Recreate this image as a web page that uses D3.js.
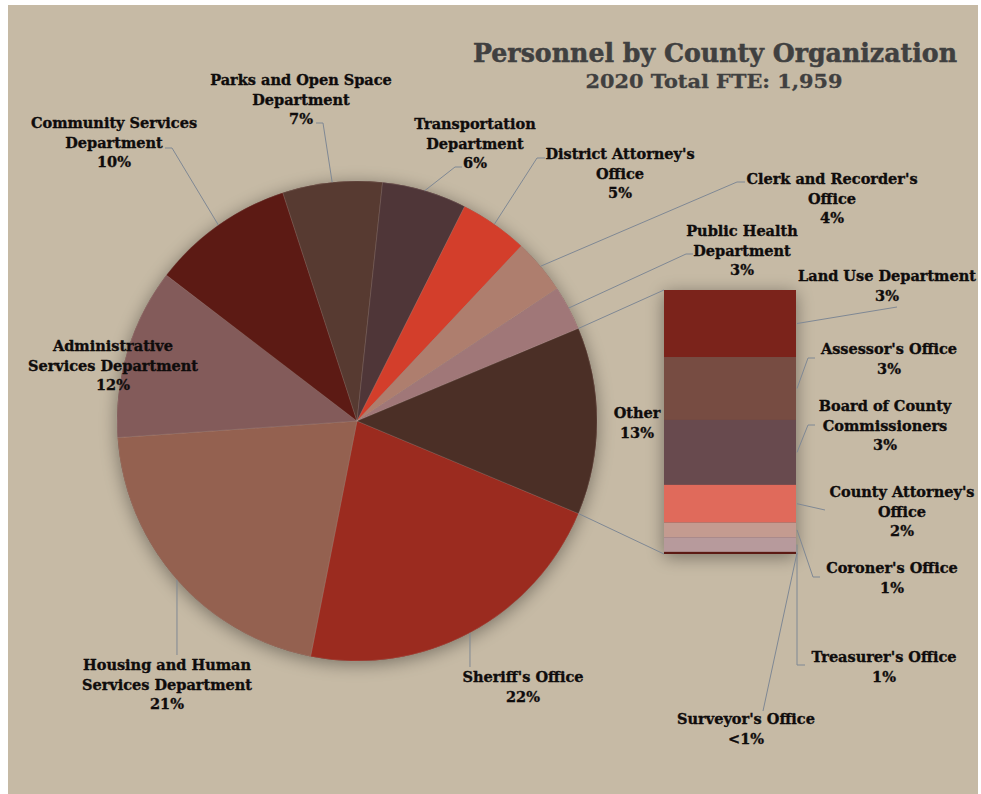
<!DOCTYPE html>
<html>
<head>
<meta charset="utf-8">
<script src="https://cdn.jsdelivr.net/npm/d3@7"></script>
<style>
  html, body { margin: 0; padding: 0; background: #ffffff; }
  svg { display: block; }
  text { font-family: "DejaVu Serif", "Liberation Serif", serif; font-weight: bold; }
</style>
</head>
<body>
<svg id="chart" width="981" height="794"></svg>
<script>
// Share of 2020 FTE by organization (percent of total)
const categories = [
  "Sheriff's Office", "Housing and Human Services Department", "Administrative Services Department",
  "Community Services Department", "Parks and Open Space Department", "Transportation Department",
  "District Attorney's Office", "Clerk and Recorder's Office", "Public Health Department"
];
const shares = [21.8, 20.8, 11.5, 9.6, 6.7, 5.7, 4.6, 3.7, 3.0];

// Smaller organizations grouped into "Other" and broken out in the bar
const otherCategories = [
  "Land Use Department", "Assessor's Office", "Board of County Commissioners",
  "County Attorney's Office", "Coroner's Office", "Treasurer's Office", "Surveyor's Office"
];
const otherShares = [3.2, 3.0, 3.1, 1.8, 0.7, 0.7, 0.1];

const titleText = "Personnel by County Organization";
const subtitleText = "2020 Total FTE: 1,959";

// Colours
const pieColors = ["#9b2b1f", "#946150", "#835b5a", "#5c1a14", "#573a31", "#4f3638",
                   "#d33e2b", "#ae7e6e", "#a07778", "#4b2f26"];
const barColors = ["#7b231b", "#774c42", "#684a4e", "#e06a5b", "#c49b90", "#b79a9c", "#5c1a14"];

// Label line breaks
const labelLines = {
  "Sheriff's Office": ["Sheriff's Office"],
  "Housing and Human Services Department": ["Housing and Human", "Services Department"],
  "Administrative Services Department": ["Administrative", "Services Department"],
  "Community Services Department": ["Community Services", "Department"],
  "Parks and Open Space Department": ["Parks and Open Space", "Department"],
  "Transportation Department": ["Transportation", "Department"],
  "District Attorney's Office": ["District Attorney's", "Office"],
  "Clerk and Recorder's Office": ["Clerk and Recorder's", "Office"],
  "Public Health Department": ["Public Health", "Department"],
  "Other": ["Other"],
  "Land Use Department": ["Land Use Department"],
  "Assessor's Office": ["Assessor's Office"],
  "Board of County Commissioners": ["Board of County", "Commissioners"],
  "County Attorney's Office": ["County Attorney's", "Office"],
  "Coroner's Office": ["Coroner's Office"],
  "Treasurer's Office": ["Treasurer's Office"],
  "Surveyor's Office": ["Surveyor's Office"]
};

// Label placement: centre x, first-line centre y, and leader elbow points
const labelLayout = {
  "Sheriff's Office": { x: 523, y: 677, leader: "down", end: 667 },
  "Housing and Human Services Department": { x: 167, y: 665, leader: "down", end: 655 },
  "Administrative Services Department": { x: 113, y: 346 },
  "Community Services Department": { x: 114, y: 123, leader: [[172, 148], [165, 148]] },
  "Parks and Open Space Department": { x: 301, y: 80, leader: [[323, 123], [316, 123]] },
  "Transportation Department": { x: 475, y: 124, leader: [[455, 167], [462, 167]] },
  "District Attorney's Office": { x: 620, y: 154, leader: [[537, 158], [545, 158]] },
  "Clerk and Recorder's Office": { x: 832, y: 179, leader: [[737, 182], [745, 182]] },
  "Public Health Department": { x: 742, y: 231, leader: [[686, 254], [693, 254]] },
  "Other": { x: 637, y: 413 },
  "Land Use Department": { x: 887, y: 276, leader: [[897, 307]] },
  "Assessor's Office": { x: 889, y: 349, leader: [[808, 358], [815, 358]] },
  "Board of County Commissioners": { x: 885, y: 406, leader: [[808, 425], [815, 425]] },
  "County Attorney's Office": { x: 902, y: 492, leader: [[825, 510]] },
  "Coroner's Office": { x: 892, y: 568, leader: [[813, 577], [820, 577]] },
  "Treasurer's Office": { x: 884, y: 657, leader: [[797, 665], [805, 665]] },
  "Surveyor's Office": { x: 746, y: 719, leader: [[763, 711]] }
};

const W = 981, H = 794;
const cx = 357, cy = 421, R = 240;
const lineGap = 19.7;
const textColor = "#0f0c0c";
const leaderColor = "#7f8894";

const svg = d3.select("#chart");

// Soft drop shadow shared by the pie and the bar
const defs = svg.append("defs");
const shadow = defs.append("filter").attr("id", "shadow")
  .attr("x", "-20%").attr("y", "-20%").attr("width", "140%").attr("height", "140%");
shadow.append("feGaussianBlur").attr("in", "SourceAlpha").attr("stdDeviation", 9).attr("result", "blur");
shadow.append("feOffset").attr("in", "blur").attr("dx", 0).attr("dy", 3).attr("result", "off");
shadow.append("feComponentTransfer").attr("in", "off").attr("result", "soft")
  .append("feFuncA").attr("type", "linear").attr("slope", 0.4);
const merge = shadow.append("feMerge");
merge.append("feMergeNode").attr("in", "soft");
merge.append("feMergeNode").attr("in", "SourceGraphic");

// Background panel
svg.append("rect").attr("x", 8).attr("y", 5).attr("width", 970).attr("height", H - 5)
  .attr("fill", "#c6baa5");

// Title
svg.append("text").attr("x", 715).attr("y", 62).attr("text-anchor", "middle")
  .attr("fill", "#404040").attr("font-size", 26).attr("stroke", "#404040").attr("stroke-width", 0.5)
  .attr("textLength", 484).attr("lengthAdjust", "spacingAndGlyphs").text(titleText);
svg.append("text").attr("x", 714).attr("y", 88).attr("text-anchor", "middle")
  .attr("fill", "#404040").attr("font-size", 19).attr("stroke", "#404040").attr("stroke-width", 0.3)
  .attr("textLength", 257).attr("lengthAdjust", "spacingAndGlyphs").text(subtitleText);

// Pie data: main organizations followed by the grouped "Other" slice
const otherTotal = d3.sum(otherShares);
const pieData = categories.map((c, i) => ({ name: c, value: shares[i], color: pieColors[i] }))
  .concat([{ name: "Other", value: otherTotal, color: pieColors[9] }]);
const total = d3.sum(pieData, d => d.value);

// "Other" is centred on the right-hand side (3 o'clock); Sheriff starts right after it
const otherAngle = otherTotal / total * 2 * Math.PI;
const start = Math.PI / 2 + otherAngle / 2;
const pie = d3.pie().value(d => d.value).sort(null).startAngle(start).endAngle(start + 2 * Math.PI);
const arcs = pie(pieData);
const arc = d3.arc().innerRadius(0).outerRadius(R);

const pieG = svg.append("g").attr("transform", `translate(${cx},${cy})`);
pieG.append("circle").attr("r", R).attr("fill", "#5a3a30").attr("filter", "url(#shadow)");
pieG.selectAll("path.slice").data(arcs).join("path")
  .attr("class", "slice")
  .attr("d", arc)
  .attr("fill", d => d.data.color)
  .attr("stroke", "rgba(220,210,200,0.25)")
  .attr("stroke-width", 0.6);

// Stacked bar breaking out "Other"
const barX = 664, barW = 132, barTop = 290, barBottom = 554;
const y = d3.scaleLinear().domain([0, otherTotal]).range([barTop, barBottom]);
let acc = 0;
const barData = otherCategories.map((c, i) => {
  const d = { name: c, value: otherShares[i], y0: acc, y1: acc + otherShares[i], color: barColors[i] };
  acc += otherShares[i];
  return d;
});
const barG = svg.append("g");
barG.append("rect").attr("x", barX).attr("y", y(0)).attr("width", barW)
  .attr("height", y(otherTotal) - y(0)).attr("fill", "#6b4a44").attr("filter", "url(#shadow)");
barG.selectAll("rect.seg").data(barData).join("rect")
  .attr("class", "seg")
  .attr("x", barX).attr("width", barW)
  .attr("y", d => y(d.y0)).attr("height", d => y(d.y1) - y(d.y0))
  .attr("fill", d => d.color);

// Connector lines from the "Other" slice edges to the bar
const otherArc = arcs[arcs.length - 1];
const edgePt = a => [cx + R * Math.sin(a), cy - R * Math.cos(a)];
const lines = svg.append("g").attr("fill", "none").attr("stroke", leaderColor).attr("stroke-width", 1);
lines.append("line")
  .attr("x1", edgePt(otherArc.startAngle)[0]).attr("y1", edgePt(otherArc.startAngle)[1])
  .attr("x2", barX).attr("y2", y(0));
lines.append("line")
  .attr("x1", edgePt(otherArc.endAngle)[0]).attr("y1", edgePt(otherArc.endAngle)[1])
  .attr("x2", barX).attr("y2", y(otherTotal));

// Percent text
const pct = v => (v / total * 100 < 0.5 ? "<1%" : Math.round(v / total * 100) + "%");

// Leaders for pie slices
arcs.forEach(a => {
  const L = labelLayout[a.data.name];
  if (!L || !L.leader) return;
  const mid = (a.startAngle + a.endAngle) / 2;
  const p = edgePt(mid);
  const pts = L.leader === "down" ? [p, [p[0], L.end]] : [p].concat(L.leader);
  lines.append("path").attr("d", d3.line()(pts));
});

// Leaders for bar segments
barData.forEach(d => {
  const L = labelLayout[d.name];
  if (!L || !L.leader) return;
  const p = [barX + barW + 1, (y(d.y0) + y(d.y1)) / 2];
  lines.append("path").attr("d", d3.line()([p].concat(L.leader)));
});

// Labels
function drawLabel(name, value) {
  const L = labelLayout[name];
  const rows = labelLines[name].concat([pct(value)]);
  const t = svg.append("text").attr("text-anchor", "middle").attr("fill", textColor)
    .attr("stroke", textColor).attr("stroke-width", 0.35)
    .attr("font-size", 14.5);
  rows.forEach((r, i) => {
    t.append("tspan").attr("x", L.x).attr("y", L.y + i * lineGap).attr("dy", "0.35em").text(r);
  });
}
pieData.forEach(d => drawLabel(d.name, d.value));
barData.forEach(d => drawLabel(d.name, d.value));
</script>
</body>
</html>
